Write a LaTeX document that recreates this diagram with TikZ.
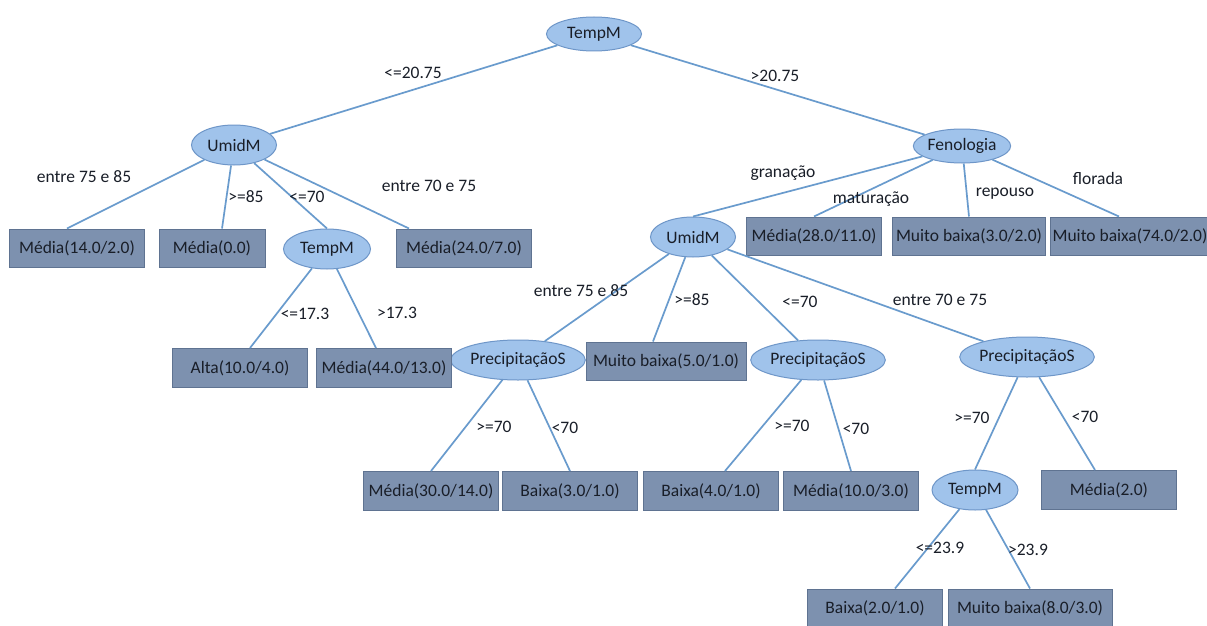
\documentclass[tikz,border=0pt]{standalone}
\usepackage{fontspec}
\setmainfont{Carlito}
\usetikzlibrary{shapes.geometric}
\definecolor{ellfill}{RGB}{160,195,235}
\definecolor{elldraw}{RGB}{110,150,200}
\definecolor{boxfill}{RGB}{125,145,175}
\definecolor{boxdraw}{RGB}{95,115,145}
\definecolor{edgecol}{RGB}{105,155,205}
\definecolor{txt}{RGB}{25,30,40}
\begin{document}
\begin{tikzpicture}[x=1pt,y=-1pt,
  every node/.style={font=\fontsize{17.5}{20}\selectfont, text=txt},
  attr/.style={ellipse, fill=ellfill, draw=elldraw, line width=1pt, minimum width=87pt, minimum height=40pt, inner sep=0pt},
  leaf/.style={rectangle, fill=boxfill, draw=boxdraw, line width=1pt, minimum width=135pt, minimum height=38pt, inner sep=0pt},
  edge/.style={draw=edgecol, line width=1.7pt},
  lbl/.style={inner sep=0pt}]
\useasboundingbox (0,0) rectangle (1207,626);
\fill[white] (0,0) rectangle (1207,626);
\clip (0,0) rectangle (1207,626);

% attribute nodes
\node[attr, minimum width=95pt, minimum height=34pt] (root) at (594,34) {TempM};
\node[attr, minimum width=85pt] (umidL) at (234,145) {UmidM};
\node[attr, minimum width=84pt, minimum height=34pt] (fen) at (962,146) {Fenologia};
\node[attr] (tempL) at (327,249) {TempM};
\node[attr, minimum width=85pt] (umidR) at (693,237) {UmidM};
\node[attr, minimum width=119pt] (precL) at (518,360) {PrecipitaçãoS};
\node[attr, minimum width=117pt] (precM) at (818,360) {PrecipitaçãoS};
\node[attr, minimum width=118pt] (precR) at (1027,357) {PrecipitaçãoS};
\node[attr, minimum width=86pt] (tempB) at (975,490) {TempM};

% leaves
\node[leaf] (b14) at (77,248) {Média(14.0/2.0)};
\node[leaf, minimum width=106pt] (b0) at (212,248) {Média(0.0)};
\node[leaf] (b24) at (464,248) {Média(24.0/7.0)};
\node[leaf, minimum height=39pt] (alta) at (240,368) {Alta(10.0/4.0)};
\node[leaf, minimum height=39pt] (m44) at (384,368) {Média(44.0/13.0)};
\node[leaf] (m28) at (814,236) {Média(28.0/11.0)};
\node[leaf, minimum width=153pt] (mb3) at (969,236) {Muito baixa(3.0/2.0)};
\node[leaf, minimum width=160pt] (mb74) at (1130,236) {Muito baixa(74.0/2.0)};
\node[leaf, minimum width=160pt] (mb5) at (666,361) {Muito baixa(5.0/1.0)};
\node[leaf, minimum height=39pt] (m30) at (431,491) {Média(30.0/14.0)};
\node[leaf, minimum height=39pt] (b3) at (570,491) {Baixa(3.0/1.0)};
\node[leaf, minimum height=39pt] (b4) at (711,491) {Baixa(4.0/1.0)};
\node[leaf, minimum height=39pt] (m10) at (851,491) {Média(10.0/3.0)};
\node[leaf, minimum height=39pt] (m2) at (1109,490) {Média(2.0)};
\node[leaf] (b2) at (875,608) {Baixa(2.0/1.0)};
\node[leaf, minimum width=164pt] (mb8) at (1030,608) {Muito baixa(8.0/3.0)};

% edges
\draw[edge] (root) -- (umidL);
\draw[edge] (root) -- (fen);
\draw[edge] (umidL) -- ([xshift=-10pt]b14.north);
\draw[edge] (umidL) -- ([xshift=10pt]b0.north);
\draw[edge] (umidL) -- (tempL.north);
\draw[edge] (umidL) -- ([xshift=-55pt]b24.north);
\draw[edge] (tempL) -- ([xshift=10pt]alta.north);
\draw[edge] (tempL) -- ([xshift=-8pt]m44.north);
\draw[edge] (fen) -- (umidR.north);
\draw[edge] (fen) -- (m28.north);
\draw[edge] (fen) -- (mb3.north);
\draw[edge] (fen) -- ([xshift=-11pt]mb74.north);
\draw[edge] (umidR) -- (precL);
\draw[edge] (umidR) -- ([xshift=-13pt]mb5.north);
\draw[edge] (umidR) -- (precM);
\draw[edge] (umidR) -- (precR);
\draw[edge] (precL) -- (m30.north);
\draw[edge] (precL) -- (b3.north);
\draw[edge] (precM) -- ([xshift=14pt]b4.north);
\draw[edge] (precM) -- (m10.north);
\draw[edge] (precR) -- (tempB.north);
\draw[edge] (precR) -- ([xshift=-14pt]m2.north);
\draw[edge] (tempB) -- ([xshift=20pt]b2.north);
\draw[edge] (tempB) -- (mb8.north);

% labels
\node[lbl] (l1) at (413,73) {<=20.75};
\node[lbl] (l2) at (775,76) {>20.75};
\node[lbl] (l3) at (84,177) {entre 75 e 85};
\node[lbl] (l4) at (246,197) {>=85};
\node[lbl] (l5) at (307,197) {<=70};
\node[lbl] (l6) at (429,186) {entre 70 e 75};
\node[lbl] (l7) at (305,314) {<=17.3};
\node[lbl] (l8) at (397,313) {>17.3};
\node[lbl] (l9) at (783,173) {granação};
\node[lbl] (l10) at (871,199) {maturação};
\node[lbl] (l11) at (1005,194) {repouso};
\node[lbl] (l12) at (1098,178) {florada};
\node[lbl] (l13) at (581,291) {entre 75 e 85};
\node[lbl] (l14) at (692,300) {>=85};
\node[lbl] (l15) at (800,302) {<=70};
\node[lbl] (l16) at (940,300) {entre 70 e 75};
\node[lbl] (l17) at (494,427) {>=70};
\node[lbl] (l18) at (565,428) {<70};
\node[lbl] (l19) at (792,426) {>=70};
\node[lbl] (l20) at (856,429) {<70};
\node[lbl] (l21) at (972,418) {>=70};
\node[lbl] (l22) at (1085,417) {<70};
\node[lbl] (l23) at (940,548) {<=23.9};
\node[lbl] (l24) at (1028,550) {>23.9};
\end{tikzpicture}
\end{document}
